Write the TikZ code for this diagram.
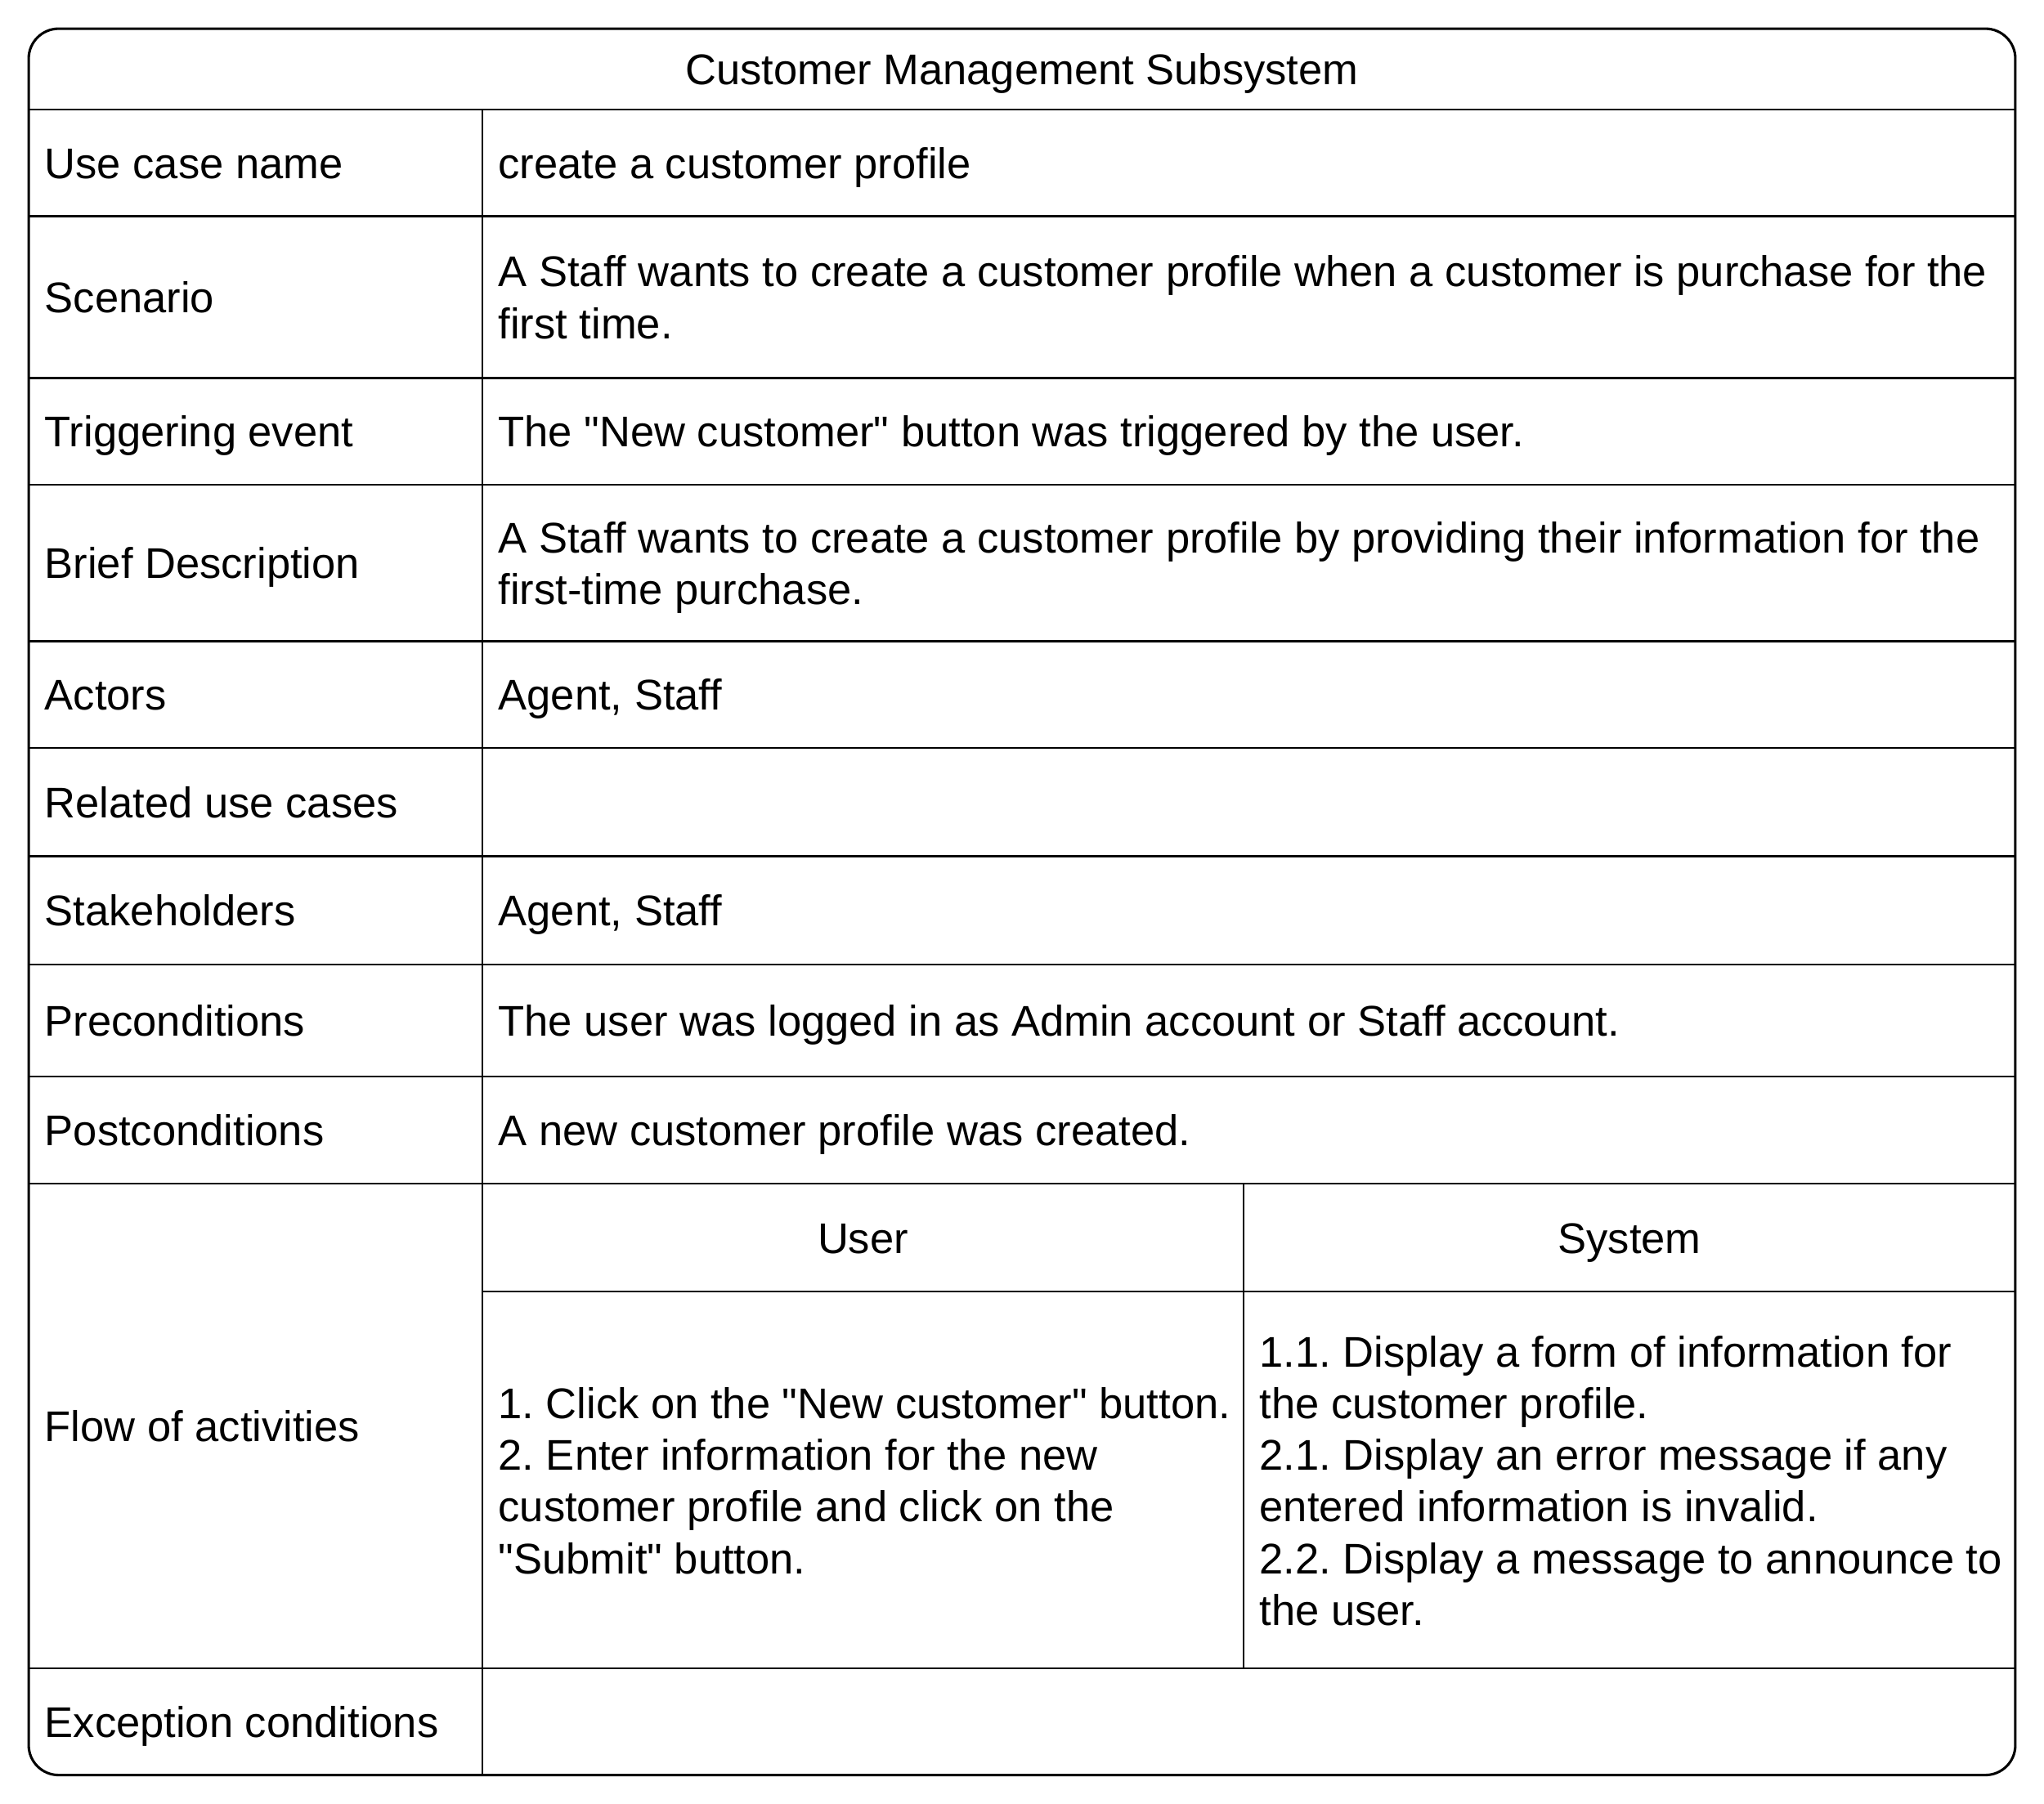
\documentclass[tikz,border=0pt]{standalone}
\usepackage{fontspec}
\setmainfont{Liberation Sans}[Ligatures=TeXOff]
\frenchspacing
\newcommand{\tablefont}{\fontsize{18.75}{22.6}\selectfont}
\tikzset{
  % Common styles for the use case table
  frame/.style={draw, line width=1.1pt, rounded corners=0.46cm},
  rule/.style={draw, line width=0.85pt},
  cell/.style={anchor=west, inner sep=0pt, text height=13.5pt, text depth=0pt, font=\tablefont},
  multi/.style={anchor=west, inner sep=0pt, align=left, text depth=0pt, font=\tablefont},
  head/.style={anchor=center, inner sep=0pt, text height=13.5pt, text depth=0pt, font=\tablefont}
}

\begin{document}
\begin{tikzpicture}[x=0.02cm, y=-0.02cm]
    \useasboundingbox (0,0) rectangle (1568,1384);

    % Outer frame and rules
    \path [frame] (22,22) rectangle (1546,1362);
    \path [rule] (22,84) -- (1546,84)
                 (22,166) -- (1546,166)
                 (22,290) -- (1546,290)
                 (22,372) -- (1546,372)
                 (22,492) -- (1546,492)
                 (22,574) -- (1546,574)
                 (22,657) -- (1546,657)
                 (22,740) -- (1546,740)
                 (22,826) -- (1546,826)
                 (22,908) -- (1546,908)
                 (22,1280) -- (1546,1280);
    \path [rule] (370,84) -- (370,1362);
    \path [rule] (370,991) -- (1546,991);
    \path [rule] (954,908) -- (954,1280);

    % Title
    \node [head] (title) at (784,53) {Customer Management Subsystem};

    % Left column
    \node [cell] (ucname) at (34,125) {Use case name};
    \node [cell] (scenario) at (34,228) {Scenario};
    \node [cell] (trigger) at (34,331) {Triggering event};
    \node [cell] (brief) at (34,432) {Brief Description};
    \node [cell] (actors) at (34,533) {Actors};
    \node [cell] (related) at (34,615.5) {Related use cases};
    \node [cell] (stake) at (34,698.5) {Stakeholders};
    \node [cell] (precond) at (34,783) {Preconditions};
    \node [cell] (postcond) at (34,867) {Postconditions};
    \node [cell] (flow) at (34,1094) {Flow of activities};
    \node [cell] (except) at (34,1321) {Exception conditions};

    % Right column
    \node [cell] (ucnameval) at (382,125) {create a customer profile};
    \node [multi] (scenarioval) at (382,228) {A Staff wants to create a customer profile when a customer is purchase for the\\first time.};
    \node [cell] (triggerval) at (382,331) {The "New customer" button was triggered by the user.};
    \node [multi] (briefval) at (382,432) {A Staff wants to create a customer profile by providing their information for the\\first-time purchase.};
    \node [cell] (actorsval) at (382,533) {Agent, Staff};
    \node [cell] (stakeval) at (382,698.5) {Agent, Staff};
    \node [cell] (precondval) at (382,783) {The user was logged in as Admin account or Staff account.};
    \node [cell] (postcondval) at (382,867) {A new customer profile was created.};

    % Flow of activities
    \node [head] (user) at (662,950) {User};
    \node [head] (system) at (1250,950) {System};
    \node [multi] (userflow) at (382,1136) {1. Click on the "New customer" button.\\2. Enter information for the new\\customer profile and click on the\\"Submit" button.};
    \node [multi] (systemflow) at (966,1136) {1.1. Display a form of information for\\the customer profile.\\2.1. Display an error message if any\\entered information is invalid.\\2.2. Display a message to announce to\\the user.};

\end{tikzpicture}
\end{document}
